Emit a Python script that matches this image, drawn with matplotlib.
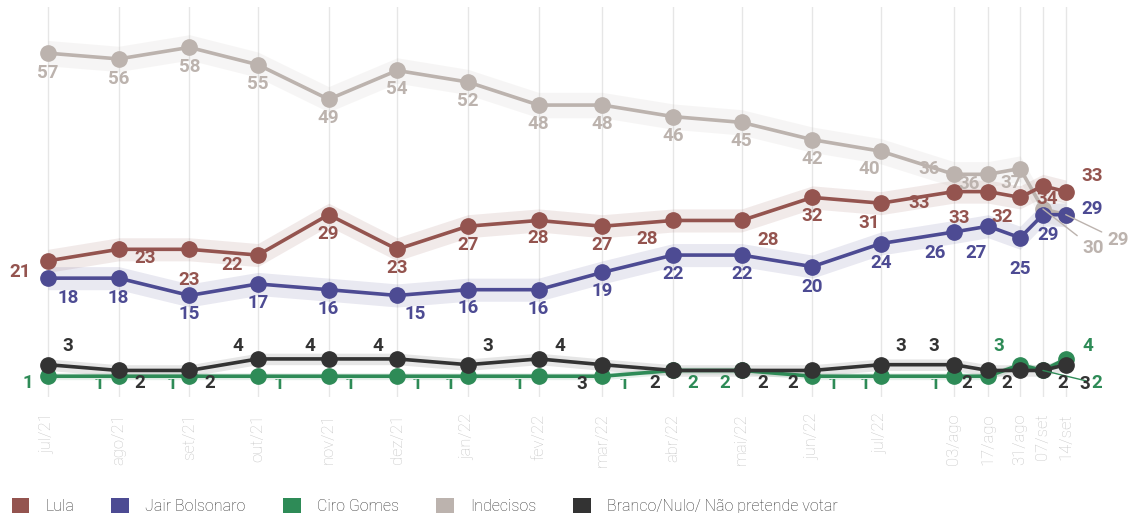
import matplotlib.pyplot as plt
from matplotlib.patches import Patch
from matplotlib.transforms import Bbox, TransformedBbox
from datetime import datetime, timedelta
import numpy as np

plt.rcParams['font.family'] = ['Roboto', 'DejaVu Sans']

# Datas das pesquisas (posição no eixo) e rótulos do eixo x
datas = ['2021-07-01', '2021-08-01', '2021-09-01', '2021-10-01', '2021-11-01', '2021-12-01',
         '2022-01-01', '2022-02-01', '2022-03-01', '2022-04-01', '2022-05-01', '2022-06-01',
         '2022-07-01', '2022-08-02', '2022-08-17', '2022-08-31', '2022-09-10', '2022-09-20']
rotulos = ['jul/21', 'ago/21', 'set/21', 'out/21', 'nov/21', 'dez/21', 'jan/22', 'fev/22',
           'mar/22', 'abr/22', 'mai/22', 'jun/22', 'jul/22', '03/ago', '17/ago', '31/ago',
           '07/set', '14/set']

# Intenção de voto espontânea (%)
lula = [21, 23, 23, 22, 29, 23, 27, 28, 27, 28, 28, 32, 31, 33, 33, 32, 34, 33]
bolsonaro = [18, 18, 15, 17, 16, 15, 16, 16, 19, 22, 22, 20, 24, 26, 27, 25, 29, 29]
ciro = [1, 1, 1, 1, 1, 1, 1, 1, 1, 2, 2, 1, 1, 1, 1, 3, 2, 4]
indecisos = [57, 56, 58, 55, 49, 54, 52, 48, 48, 46, 45, 42, 40, 36, 36, 37, 30, 29]
branco = [3, 2, 2, 4, 4, 4, 3, 4, 3, 2, 2, 2, 3, 3, 2, 2, 2, 3]

nomes = ['Lula', 'Jair Bolsonaro', 'Ciro Gomes', 'Indecisos', 'Branco/Nulo/ Não pretende votar']
cores = ['#94544f', '#4d4b93', '#2e8b57', '#bcb3ae', '#333333']
margens = [2.0, 2.0, 0.6, 2.2, 1.0]  # faixa de margem de erro aproximada

# deslocamento dos rótulos em pixels (dx, dy para baixo); None = sem rótulo
off_lula = [(-28, 11), (26, 9), (0, 31), (-26, 10), (0, 19), (0, 19), (0, 19), (0, 18), (0, 19),
            (-26, 19), (26, 20), (0, 19), (-12, 20), (-35, 11), (-29, 26), (-18, 20), (4, 13), (26, -16)]
off_bolso = [(20, 20), (0, 20), (0, 19), (0, 19), (0, 19), (18, 19), (0, 18), (0, 19), (0, 19),
             (0, 19), (0, 19), (0, 20), (0, 19), (-19, 21), (-12, 27), (0, 31), (5, 20), (26, -6)]
off_ciro = [(-20, 7), (-20, 8), (-18, 8), (21, 8), (21, 8), (20, 8), (-18, 8), (-20, 8), (21, 8),
            (20, 13), (-17, 13), (20, 8), (-16, 8), (-19, 8), None, (-21, -19), (54, 13), (22, -13)]
ciro_cortados = [1, 2, 3, 4, 5, 6, 7, 8, 11, 12, 13]
off_indec = [(0, 20), (0, 20), (0, 20), (0, 19), (0, 19), (0, 19), (0, 19), (0, 19), (0, 19),
             (0, 19), (0, 19), (0, 19), (-12, 18), (-25, -5), (-19, 10), (-9, 14), (50, 39), (52, 25)]
off_branco = [(20, -19), (21, 13), (20, 13), (-20, -13), (-19, -13), (-19, -13), (20, -19), (21, -13),
              (-21, 19), (-18, 13), (21, 13), (-20, 13), (20, -19), (-20, -19), (-21, 13), (-13, 13),
              (20, 13), (19, 19)]

x = [datetime.strptime(d, '%Y-%m-%d') for d in datas]

fig = plt.figure(figsize=(11.31, 5.13), dpi=100)
ax = fig.add_axes([0, 116 / 513, 1, 390 / 513])

series = [(lula, off_lula, 3), (bolsonaro, off_bolso, 4), (ciro, off_ciro, 5),
          (indecisos, off_indec, 2), (branco, off_branco, 6)]

# só a haste de baixo dos "1" escondidos do Ciro aparece
caixa_corte = TransformedBbox(Bbox([[0, 0], [1, 0.047]]), ax.transAxes)

for i, (vals, offs, z) in enumerate(series):
    cor = cores[i]
    v = np.array(vals)
    ax.fill_between(x, v - margens[i], v + margens[i], color=cor, alpha=0.12, lw=0, zorder=1)
    ax.plot(x, v, color=cor, lw=2.6, marker='o', markersize=11, zorder=z)
    for j, (xx, val) in enumerate(zip(x, vals)):
        if offs[j] is None:
            continue
        dx, dy = offs[j]
        if vals is ciro and j in ciro_cortados:
            t = ax.annotate(str(val), (xx, val), xytext=(dx, -dy), textcoords='offset pixels',
                            ha='center', va='center', fontsize=13.5, fontweight='bold',
                            color=cor, zorder=4.5, annotation_clip=False)
            t.set_clip_on(True)
            t.set_clip_box(caixa_corte)
            continue
        props = None
        if np.hypot(dx, dy) > 40:
            props = dict(arrowstyle='-', color=cor, lw=1, shrinkA=2, shrinkB=0)
        ax.annotate(str(val), (xx, val), xytext=(dx, -dy), textcoords='offset pixels',
                    ha='center', va='center', fontsize=13.5, fontweight='bold',
                    color=cor, zorder=10, arrowprops=props)

ax.set_xlim(x[0] - timedelta(days=21.0), x[0] + timedelta(days=474.6))
ax.set_ylim(-2.6, 65)
ax.set_xticks(x)
ax.set_xticklabels(rotulos, rotation=90, color='#c6c6c6', fontsize=12, fontweight='light')
ax.tick_params(axis='x', length=0, pad=12)
ax.set_yticks([])
ax.grid(axis='x', color='#e6e6e6', lw=1, zorder=0)
ax.set_axisbelow(True)
for s in ax.spines.values():
    s.set_visible(False)

handles = [Patch(facecolor=c, edgecolor='none') for c in cores]
fig.legend(handles, nomes, loc='lower left', bbox_to_anchor=(-0.0025, -0.030), ncol=5,
           frameon=False, handlelength=1.12, handleheight=1.12, handletextpad=1.0,
           columnspacing=2.33, prop={'weight': 'light', 'size': 11.5},
           labelcolor='#333333')

plt.savefig('out.png', dpi=100)
plt.close()
